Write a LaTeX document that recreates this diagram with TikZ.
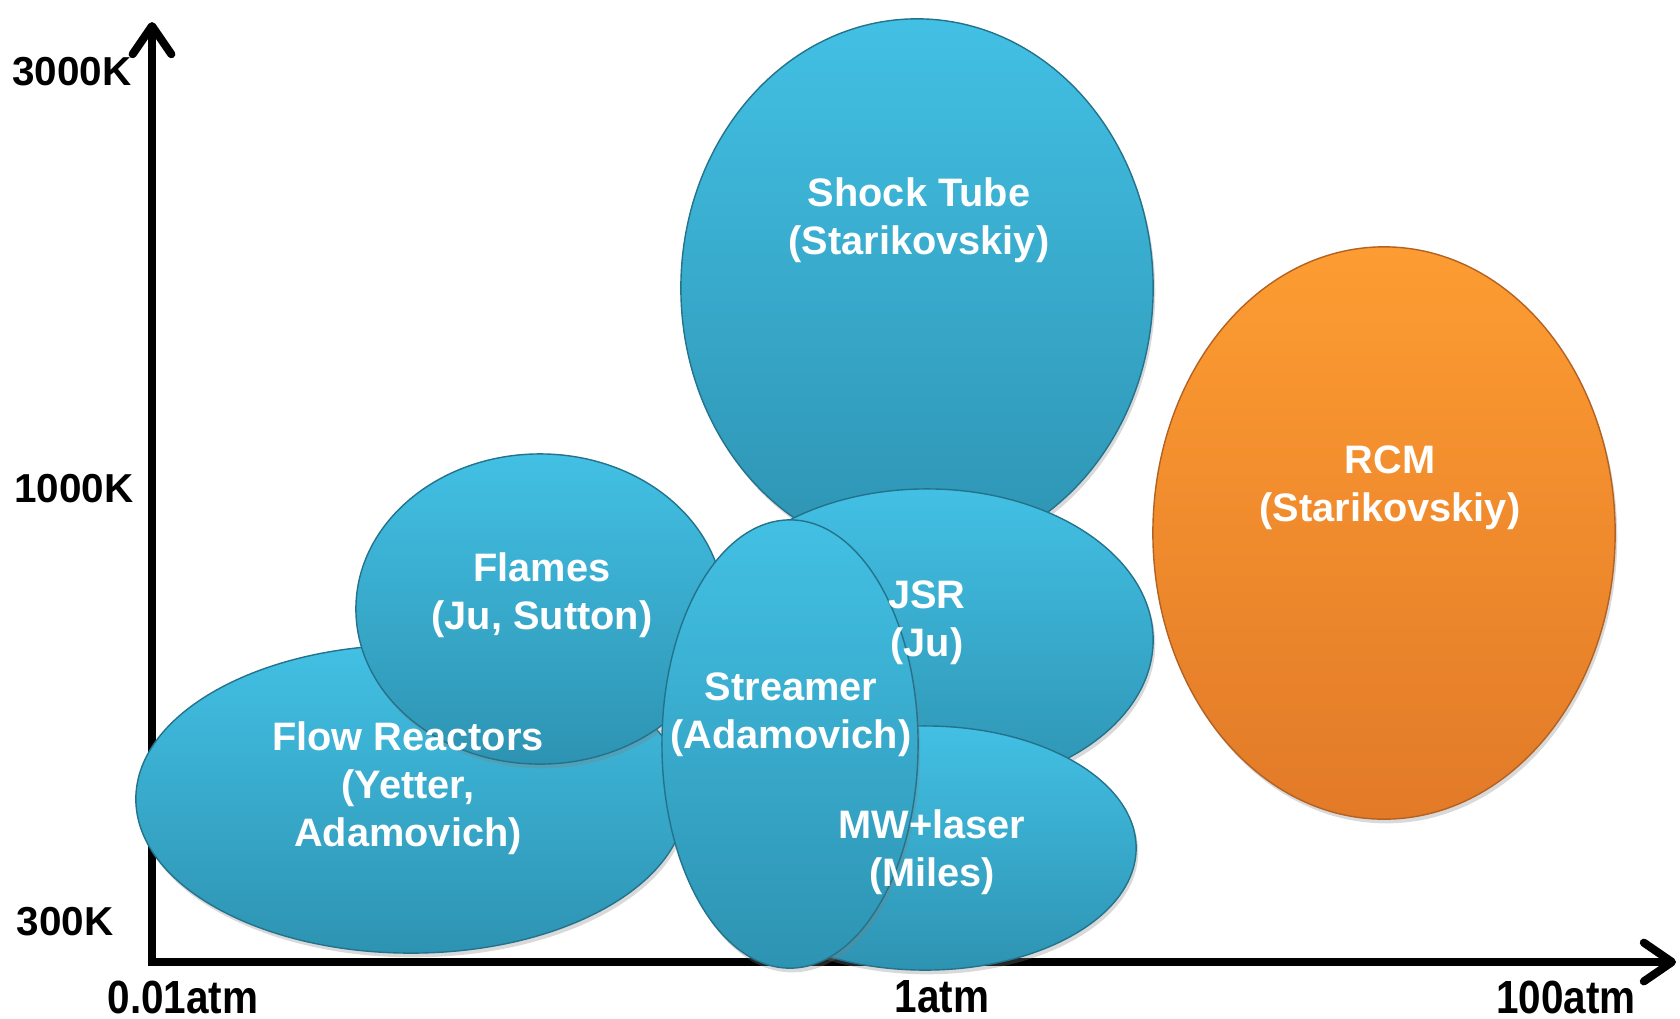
\documentclass[tikz,border=0pt]{standalone}
\usepackage{fontspec}
\setmainfont{Liberation Sans}
\usetikzlibrary{shapes.geometric, shadows, arrows.meta}

\definecolor{bluetop}{RGB}{66,192,228}
\definecolor{bluebot}{RGB}{46,147,178}
\definecolor{blueedge}{RGB}{36,115,140}
\definecolor{orangetop}{RGB}{253,156,50}
\definecolor{orangebot}{RGB}{226,122,40}
\definecolor{orangeedge}{RGB}{180,98,34}

\tikzset{
  blob/.style = {ellipse, inner sep=0pt, draw=blueedge, line width=0.4pt,
    top color=bluetop, bottom color=bluebot,
    drop shadow={shadow xshift=0.6pt, shadow yshift=-1.2pt, opacity=0.3}},
  orangeblob/.style = {blob, draw=orangeedge, top color=orangetop, bottom color=orangebot},
  blobtext/.style = {text=white, align=center, font=\bfseries\fontsize{11.3}{13.7}\selectfont},
  axtext/.style = {inner sep=0pt, font=\bfseries\fontsize{11.5}{13}\selectfont},
  axis/.style = {line width=2.3pt, line join=miter,
    {Straight Barb[length=8pt, width=11pt, round]}-{Straight Barb[length=8pt, width=11pt, round]}}
}

\begin{document}
\begin{tikzpicture}[x=0.01cm, y=-0.01cm]
\useasboundingbox (0, 0) rectangle (1680, 1018);

% axes
\coordinate (ytip) at (152, 22);
\coordinate (origin) at (152, 962);
\coordinate (xtip) at (1676, 962);
\draw[axis] (ytip) -- (origin) -- (xtip);

\node[axtext] (t3000) at (72, 72) {3000K};
\node[axtext] (t1000) at (74, 489) {1000K};
\node[axtext] (t300) at (65, 922) {300K};
\node[axtext, yscale=1.15] (p001) at (183, 997) {0.01atm};
\node[axtext, yscale=1.15] (p1) at (942, 997) {1atm};
\node[axtext, yscale=1.15] (p100) at (1566, 997) {100atm};

% regions
\node[blob, minimum width=5.50cm, minimum height=3.08cm] (flow) at (411, 799) {};
\node[blob, minimum width=3.68cm, minimum height=3.10cm] (flames) at (540, 609) {};
\node[blob, minimum width=4.72cm, minimum height=5.38cm] (shock) at (917, 288) {};
\node[blob, minimum width=4.52cm, minimum height=3.02cm] (jsr) at (927, 640) {};
\node[blob, minimum width=4.22cm, minimum height=2.44cm] (mw) at (925, 848) {};
\node[blob, minimum width=2.56cm, minimum height=4.48cm] (streamer) at (790, 744) {};
\node[orangeblob, minimum width=4.62cm, minimum height=5.72cm] (rcm) at (1384, 533) {};

% labels
\node[blobtext] (shocktext) at (919, 220) {Shock Tube\\(Starikovskiy)};
\node[blobtext] (rcmtext) at (1390, 488) {RCM\\(Starikovskiy)};
\node[blobtext] (jsrtext) at (927, 623) {JSR\\(Ju)};
\node[blobtext] (flamestext) at (542, 595) {Flames\\(Ju, Sutton)};
\node[blobtext] (streamertext) at (791, 715) {Streamer\\(Adamovich)};
\node[blobtext] (flowtext) at (408, 788) {Flow Reactors\\(Yetter,\\Adamovich)};
\node[blobtext] (mwtext) at (932, 852) {MW+laser\\(Miles)};
\end{tikzpicture}
\end{document}
